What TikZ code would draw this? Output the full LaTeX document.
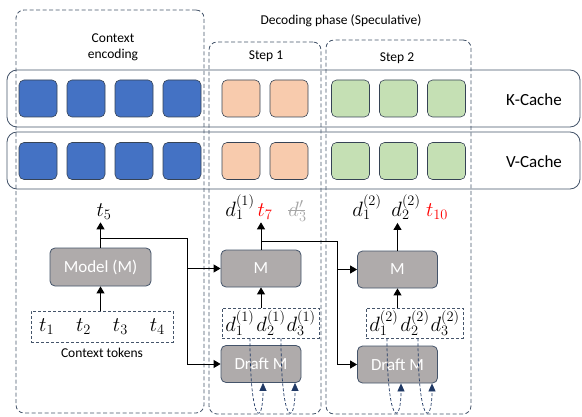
\documentclass[tikz,border=0pt]{standalone}
\usepackage[no-math]{fontspec}
\setmainfont{Carlito}
\usetikzlibrary{arrows.meta,positioning,calc}
\definecolor{ceblue}{HTML}{4472C4}
\definecolor{sonepeach}{HTML}{F8CBAD}
\definecolor{stwogreen}{HTML}{C5E0B4}
\definecolor{frame}{HTML}{44546A}
\definecolor{boxgray}{HTML}{AFABAB}
\definecolor{loopnavy}{HTML}{1F3864}

\begin{document}
\begin{tikzpicture}[x=1pt,y=1pt]
        \tikzstyle{cacherow} = [rectangle, rounded corners=10pt, minimum width=573pt, minimum height=57pt, draw=frame, line width=0.8pt]
        \tikzstyle{cell} = [rectangle, rounded corners=5pt, minimum width=38pt, minimum height=37pt, draw=frame!80!black, line width=0.6pt, inner sep=0pt, node distance=48pt]
        \tikzstyle{cachelabel} = [font=\fontsize{17}{19}\selectfont]
        \tikzstyle{phase} = [rectangle, rounded corners=8pt, draw=frame, dash pattern=on 4pt off 2.5pt, line width=0.8pt]
        \tikzstyle{title} = [font=\fontsize{13.5}{16}\selectfont, align=center]
        \tikzstyle{modelbox} = [rectangle, rounded corners=5pt, minimum width=80pt, minimum height=37pt, draw=frame, line width=0.8pt, fill=boxgray, text=white, font=\fontsize{17}{19}\selectfont]
        \tikzstyle{tokbox} = [rectangle, draw=frame, dash pattern=on 3pt off 2pt, line width=0.7pt, inner sep=0pt, font=\fontsize{20.74}{24}\selectfont]
        \tikzstyle{outtok} = [anchor=base, inner sep=3pt, font=\fontsize{20.74}{24}\selectfont]
        \tikzstyle{arrow} = [line width=0.9pt, -{Triangle[width=8pt,length=7pt]}]
        \tikzstyle{feedback} = [draw=loopnavy, dash pattern=on 3pt off 2pt, line width=0.7pt, -{Triangle[width=7pt,length=8pt]}]

        \useasboundingbox (0,0) rectangle (582,416);

        % K / V cache rows
        \node (krow) [cacherow] at (293.5,317.5) {};
        \node (vrow) [cacherow] at (293.5,255.5) {};
        \node (klab) [cachelabel] at (534,316) {K-Cache};
        \node (vlab) [cachelabel] at (534,254) {V-Cache};

        \node (k1) [cell, fill=ceblue] at (38,317.5) {};
        \node (k2) [cell, fill=ceblue, right of=k1] {};
        \node (k3) [cell, fill=ceblue, right of=k2] {};
        \node (k4) [cell, fill=ceblue, right of=k3] {};
        \node (k5) [cell, fill=sonepeach, right of=k4, xshift=11pt] {};
        \node (k6) [cell, fill=sonepeach, right of=k5] {};
        \node (k7) [cell, fill=stwogreen, right of=k6, xshift=13.5pt] {};
        \node (k8) [cell, fill=stwogreen, right of=k7] {};
        \node (k9) [cell, fill=stwogreen, right of=k8] {};

        \node (v1) [cell, fill=ceblue] at (38,255) {};
        \node (v2) [cell, fill=ceblue, right of=v1] {};
        \node (v3) [cell, fill=ceblue, right of=v2] {};
        \node (v4) [cell, fill=ceblue, right of=v3] {};
        \node (v5) [cell, fill=sonepeach, right of=v4, xshift=11pt] {};
        \node (v6) [cell, fill=sonepeach, right of=v5] {};
        \node (v7) [cell, fill=stwogreen, right of=v6, xshift=13.5pt] {};
        \node (v8) [cell, fill=stwogreen, right of=v7] {};
        \node (v9) [cell, fill=stwogreen, right of=v8] {};

        % phases
        \node (ctx) [phase, minimum width=188pt, minimum height=403pt] at (110,204.5) {};
        \node (step1) [phase, minimum width=112pt, minimum height=372pt] at (265,188) {};
        \node (step2) [phase, minimum width=145pt, minimum height=374pt] at (398.5,189) {};

        \node (dectitle) [title] at (341,395) {Decoding phase (Speculative)};
        \node (ctxtitle) [title] at (113,369) {Context\\encoding};
        \node (s1title) [title] at (266,360) {Step 1};
        \node (s2title) [title] at (397,358) {Step 2};

        % models
        \node (model) [modelbox, minimum width=101pt, minimum height=38pt] at (100.5,149) {Model (M)};
        \node (m1) [modelbox] at (261,147.5) {M};
        \node (draft1) [modelbox, below of=m1, node distance=95.5pt] {Draft M};
        \node (m2) [modelbox] at (397.5,146.5) {M};
        \node (draft2) [modelbox, below of=m2, node distance=95pt] {Draft M};

        % tokens
        \node (tok0) [tokbox, minimum width=142pt, minimum height=31pt] at (102,89.5) {$t_1\hspace{22pt}t_2\hspace{22pt}t_3\hspace{22pt}t_4$};
        \node (ctxlab) [title, below of=tok0, node distance=26.5pt] {Context tokens};
        \node (tok1) [tokbox, minimum width=97pt, minimum height=30pt] at (270.5,93) {$d_1^{(1)}\hspace{2pt}d_2^{(1)}\hspace{1pt}d_3^{(1)}$};
        \node (tok2) [tokbox, minimum width=97pt, minimum height=30pt] at (414.5,93) {$d_1^{(2)}\hspace{2pt}d_2^{(2)}\hspace{1pt}d_3^{(2)}$};

        \node (t5) [outtok] at (104,200) {$t_5$};
        \node (o1a) [outtok] at (240,200) {$d_1^{(1)}$};
        \node (o1b) [outtok, text=red] at (265,200) {$t_7$};
        \node (o1c) [outtok, text=gray!70] at (297.5,200) {\rlap{\rule[5.5pt]{17pt}{0.8pt}}$d'_3$};
        \node (o2a) [outtok] at (367,200) {$d_1^{(2)}$};
        \node (o2b) [outtok] at (406,200) {$d_2^{(2)}$};
        \node (o2c) [outtok, text=red] at (437,200) {$t_{10}$};

        % connectors
        \coordinate (j0) at (187,178);
        \coordinate (j1) at (337,175);
        \draw[arrow] (tok0.north -| model.south) -- (model.south);
        \draw[arrow] (model.north) -- (model.north |- t5.south);
        \draw[arrow] (model.north |- j0) -- (j0) |- (draft1.west);
        \draw[arrow] (j0 |- m1.west) -- (m1.west);
        \draw[arrow] (tok1.north -| m1.south) -- (m1.south);
        \draw[arrow] (m1.north) -- (m1.north |- o1b.south);
        \draw[arrow] (m1.north |- j1) -- (j1) |- (draft2.west);
        \draw[arrow] (j1 |- m2.west) -- (m2.west);
        \draw[arrow] (tok2.north -| m2.south) -- (m2.south);
        \draw[arrow] (m2.north) -- (m2.north |- o2a.south);

        % draft feedback
        \draw[feedback] ($(draft1.south |- tok1.south)+(-11,0)$) .. controls +(0,-88) and +(0,-44) .. ([xshift=2pt]draft1.south);
        \draw[feedback] ($(draft1.south |- tok1.south)+(20,0)$) .. controls +(0,-88) and +(0,-44) .. ([xshift=34pt]draft1.south);
        \draw[feedback] ($(draft2.south |- tok2.south)+(-10.5,0)$) .. controls +(0,-88) and +(0,-43) .. ([xshift=3.5pt]draft2.south);
        \draw[feedback] ($(draft2.south |- tok2.south)+(20.5,0)$) .. controls +(0,-88) and +(0,-43) .. ([xshift=34.5pt]draft2.south);

\end{tikzpicture}
\end{document}
